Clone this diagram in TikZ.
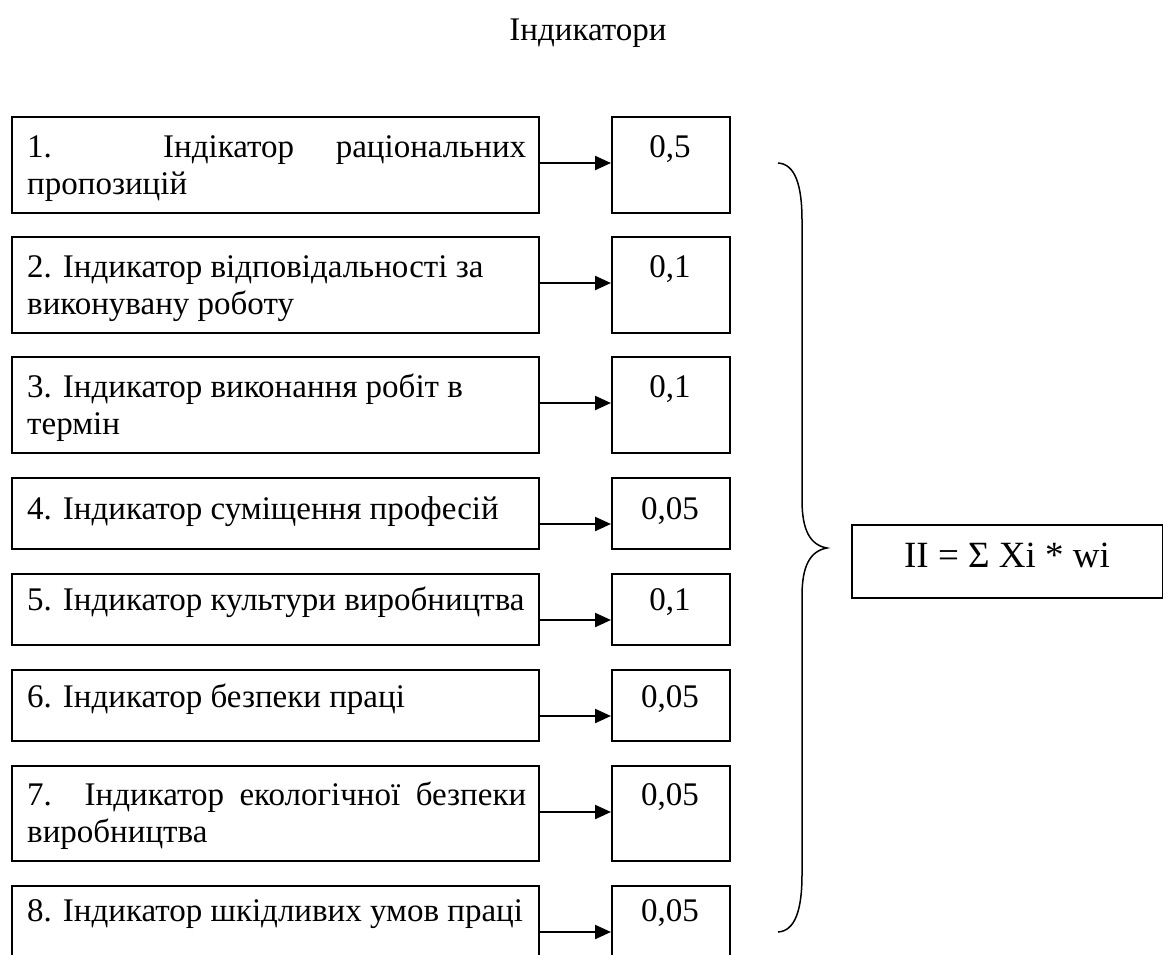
\documentclass[tikz,border=0pt]{standalone}
\usepackage{fontspec}
\setmainfont{Liberation Serif}
\usetikzlibrary{arrows.meta,calc}
\begin{document}
\begin{tikzpicture}[x=1pt,y=-1pt,
  lbox/.style={draw, line width=1.5pt, minimum width=527pt, inner sep=0pt, anchor=north west},
  vbox/.style={draw, line width=1.5pt, minimum width=118pt, inner sep=0pt, anchor=north west},
  ltext/.style={anchor=base west, inner sep=0pt, font=\fontsize{33}{37}\selectfont},
  vtext/.style={anchor=base, inner sep=0pt, font=\fontsize{33}{37}\selectfont},
  arr/.style={line width=2.2pt, -{Triangle[length=16pt,width=14pt]}},
  brace/.style={line width=1.5pt},
]
\useasboundingbox (0,0) rectangle (1163,954);

\node[anchor=base, inner sep=0pt, font=\fontsize{33}{34}\selectfont] (title) at (588,40) {Індикатори};

% left boxes
\node[lbox, minimum height=96pt] (b1) at (11,116) {};
\node[lbox, minimum height=96pt] (b2) at (11,236) {};
\node[lbox, minimum height=96pt] (b3) at (11,356) {};
\node[lbox, minimum height=71pt] (b4) at (11,477) {};
\node[lbox, minimum height=71pt] (b5) at (11,573) {};
\node[lbox, minimum height=71pt] (b6) at (11,669) {};
\node[lbox, minimum height=95pt] (b7) at (11,765) {};
\node[lbox, minimum height=71pt] (b8) at (11,885) {};

% value boxes
\node[vbox, minimum height=96pt] (v1) at (611,116) {};
\node[vbox, minimum height=96pt] (v2) at (611,236) {};
\node[vbox, minimum height=96pt] (v3) at (611,356) {};
\node[vbox, minimum height=71pt] (v4) at (611,477) {};
\node[vbox, minimum height=71pt] (v5) at (611,573) {};
\node[vbox, minimum height=71pt] (v6) at (611,669) {};
\node[vbox, minimum height=95pt] (v7) at (611,765) {};
\node[vbox, minimum height=71pt] (v8) at (611,885) {};

% texts
\node[ltext] (t1) at (27,157) {\parbox[t]{499pt}{\makebox[499pt][s]{1. Індікатор раціональних}\\пропозицій}};
\node[ltext] (t2) at (27,277) {\parbox[t]{499pt}{2. Індикатор відповідальності за\\виконувану роботу}};
\node[ltext] (t3) at (27,397) {\parbox[t]{499pt}{3. Індикатор виконання робіт в\\термін}};
\node[ltext] (t4) at (27,519) {4. Індикатор суміщення професій};
\node[ltext] (t5) at (27,610) {5. Індикатор культури виробництва};
\node[ltext] (t6) at (27,707) {6. Індикатор безпеки праці};
\node[ltext] (t7) at (27,805) {\parbox[t]{499pt}{\makebox[499pt][s]{7. Індикатор екологічної безпеки}\\виробництва}};
\node[ltext] (t8) at (27,921) {8. Індикатор шкідливих умов праці};

\node[vtext] (w1) at (670,157) {0,5};
\node[vtext] (w2) at (670,277) {0,1};
\node[vtext] (w3) at (670,397) {0,1};
\node[vtext] (w4) at (670,519) {0,05};
\node[vtext] (w5) at (670,610) {0,1};
\node[vtext] (w6) at (670,707) {0,05};
\node[vtext] (w7) at (670,805) {0,05};
\node[vtext] (w8) at (670,921) {0,05};

% arrows
\foreach \i in {1,...,8}{
  \draw[arr] ([yshift=-47pt]b\i.north east) -- ([yshift=-47pt]v\i.north west);
}

% brace
\draw[brace] (778,163) .. controls (795,164) and (802,185) .. (802,220)
  -- (802,500) .. controls (802,530) and (810,545) .. (827,548)
  .. controls (810,551) and (802,566) .. (802,596)
  -- (802,875) .. controls (802,910) and (795,931) .. (778,932);

% formula
\node[draw, line width=1.5pt, anchor=north west, minimum width=311pt, minimum height=73pt,
  inner sep=0pt] (f) at (851,524) {};
\node[anchor=base, inner sep=0pt, font=\fontsize{37}{38}\selectfont] (ft) at (1007,567) {II = Σ Xi * wi};
\end{tikzpicture}
\end{document}
